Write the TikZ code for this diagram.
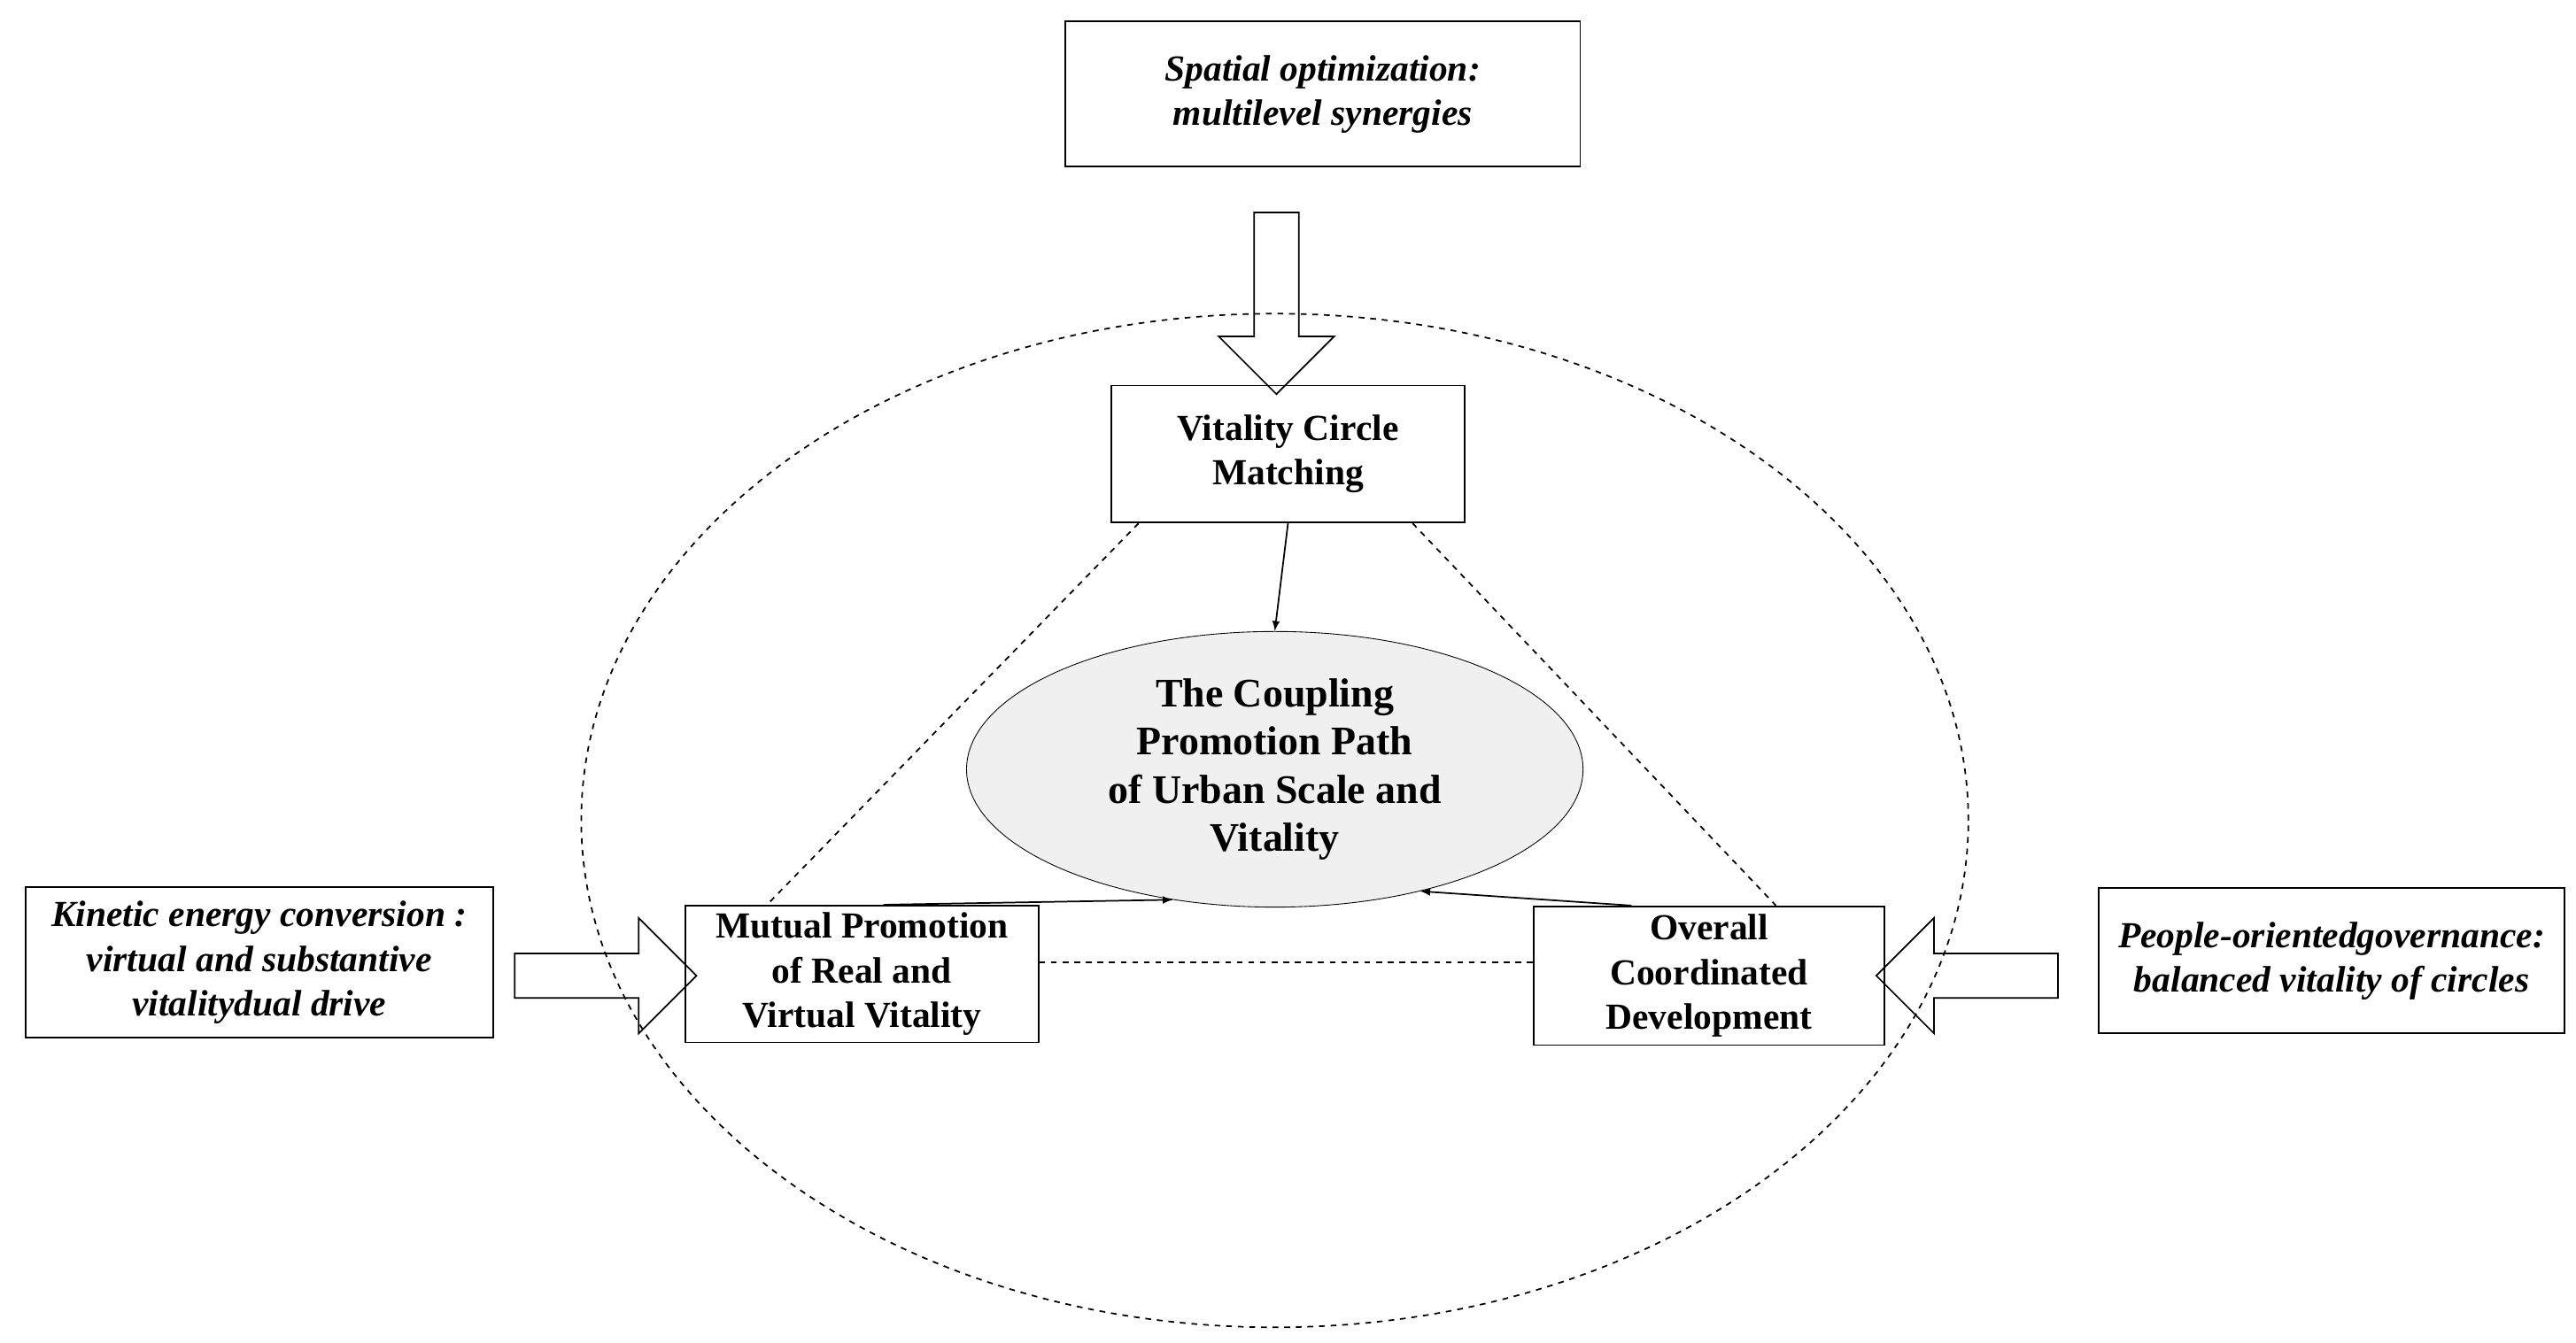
\documentclass[tikz,border=0pt]{standalone}
\usepackage{fontspec}
\setmainfont{Liberation Serif}
\usetikzlibrary{arrows,shapes.arrows,shapes.geometric}
\tikzset{>=latex}
\tikzset{
  box/.style={draw,thick,align=center,font=\fontsize{19}{23}\selectfont\bfseries},
  side/.style={box,font=\fontsize{19}{23}\selectfont\bfseries\itshape},
  hollow/.style={draw,thick,single arrow,minimum height=#1,minimum width=2.1cm,
     single arrow head extend=0.5cm,inner sep=0.3cm},
  link/.style={thick,dashed},
}
\begin{document}
\begin{tikzpicture}[x=0.03cm,y=-0.03cm]
\useasboundingbox (0,0) rectangle (1560,813);
\draw[link] (772,497) ellipse [x radius=420,y radius=-307];
\node[side,minimum width=9.36cm,minimum height=2.64cm] (plan) at (801,57) {Spatial optimization:\\ multilevel synergies};
\node[box,minimum width=6.42cm,minimum height=2.49cm] (match) at (780,275) {Vitality Circle\\Matching};
\node[ellipse,draw,fill=gray!12,minimum width=11.2cm,minimum height=4.4cm,align=center,
  font=\fontsize{21}{25}\selectfont\bfseries] (core) at (772,466) {The Coupling\\Promotion Path\\of Urban Scale and\\Vitality};
\node[box,minimum width=6.42cm,minimum height=2.49cm] (mutual) at (522,590) {Mutual Promotion\\of Real and\\Virtual Vitality};
\node[box,minimum width=6.36cm,minimum height=2.52cm] (overall) at (1035,591) {Overall\\Coordinated\\Development};
\node[side,minimum width=8.49cm,minimum height=2.73cm] (kinetic) at (157,583) {Kinetic energy conversion :\\virtual and substantive\\vitalitydual drive};
\node[side,minimum width=8.46cm,minimum height=2.64cm] (people) at (1412,582) {People-orientedgovernance:\\balanced vitality of circles};
\node[hollow=3.3cm,rotate=-90] (down) at (773,177) {};
\node[hollow=3.3cm] (right) at (360,591) {};
\node[hollow=3.3cm,rotate=180] (left) at (1198,591) {};
\draw[link] (match.south west)+(17,0) -- ([xshift=50*0.03cm]mutual.north west);
\draw[link] (match.south east)+(-32,0) -- ([xshift=-66*0.03cm]overall.north east);
\draw[link] (mutual.east |- 0,583) -- (overall.west |- 0,583);
\draw[->,thick] (match.south) -- (core.north);
\draw[->,thick] ([xshift=13*0.03cm]mutual.north) -- (core.-128);
\draw[->,thick] ([xshift=-47*0.03cm]overall.north) -- (core.-40);
\end{tikzpicture}
\end{document}
